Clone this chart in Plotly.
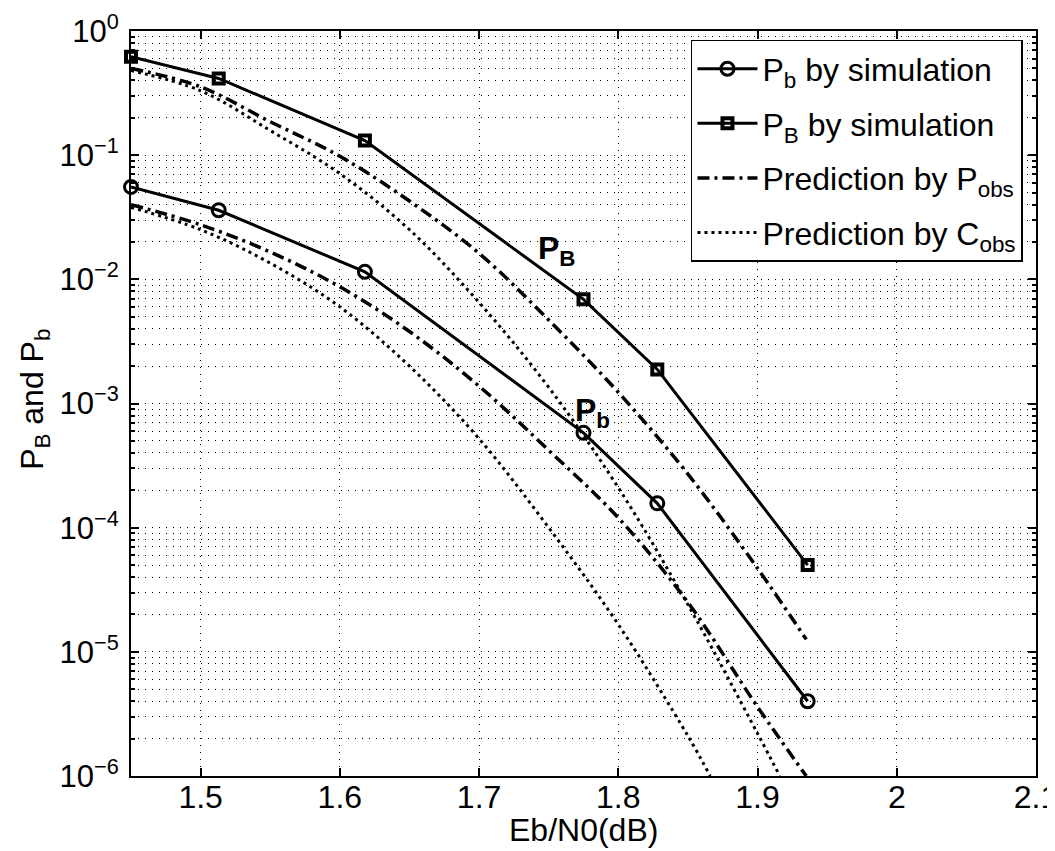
import plotly.graph_objects as go

# ---- data ----
x_sim = [1.45, 1.513, 1.618, 1.775, 1.828, 1.936]
PB_sim = [0.62, 0.415, 0.131, 6.9e-3, 1.88e-3, 5.0e-5]
Pb_sim = [0.0555, 0.036, 0.0115, 5.8e-4, 1.57e-4, 4.0e-6]

x_PB_Pobs = [1.45, 1.5, 1.55, 1.6, 1.65, 1.7, 1.75, 1.8, 1.85, 1.9, 1.935]
PB_Pobs = [0.50, 0.355, 0.186, 0.098, 0.0427, 0.0162, 4.7e-3, 1.23e-3, 2.7e-4, 4.7e-5, 1.26e-5]

x_PB_Cobs = [1.45, 1.5, 1.55, 1.6, 1.65, 1.7, 1.75, 1.8, 1.85, 1.9, 1.916]
PB_Cobs = [0.48, 0.33, 0.158, 0.071, 0.0251, 6.5e-3, 1.35e-3, 2.1e-4, 2.4e-5, 2.2e-6, 1.0e-6]

x_Pb_Pobs = [1.45, 1.5, 1.55, 1.6, 1.65, 1.7, 1.75, 1.8, 1.85, 1.9, 1.935]
Pb_Pobs = [0.040, 0.0275, 0.0166, 8.7e-3, 3.8e-3, 1.38e-3, 4.2e-4, 1.2e-4, 2.5e-5, 3.6e-6, 1.0e-6]

x_Pb_Cobs = [1.45, 1.5, 1.55, 1.6, 1.65, 1.7, 1.75, 1.8, 1.85, 1.866]
Pb_Cobs = [0.038, 0.0251, 0.0135, 6.0e-3, 2.0e-3, 5.2e-4, 1.0e-4, 1.66e-5, 2.1e-6, 1.0e-6]

x_ticks = [1.5, 1.6, 1.7, 1.8, 1.9, 2.0, 2.1]
x_ticktext = ["1.5", "1.6", "1.7", "1.8", "1.9", "2", "2.1"]
y_ticks = [1, 1e-1, 1e-2, 1e-3, 1e-4, 1e-5, 1e-6]
y_ticktext = ["10<sup>0</sup>", "10<sup>−1</sup>", "10<sup>−2</sup>", "10<sup>−3</sup>",
              "10<sup>−4</sup>", "10<sup>−5</sup>", "10<sup>−6</sup>"]
y_minor = [m * 10.0 ** e for e in range(-6, 0) for m in range(2, 10)]

FONT = "Liberation Sans, Arial, sans-serif"
fig = go.Figure()

fig.add_trace(go.Scatter(x=x_sim, y=Pb_sim, mode="lines+markers", name="P<sub>b</sub> by simulation",
                         line=dict(color="black", width=3),
                         marker=dict(symbol="circle-open", size=13, color="black", line=dict(width=3)),
                         cliponaxis=False, legendgroup="g1"))
fig.add_trace(go.Scatter(x=x_sim, y=PB_sim, mode="lines+markers", name="P<sub>B</sub> by simulation",
                         line=dict(color="black", width=3),
                         marker=dict(symbol="square-open", size=10, color="black", line=dict(width=4)),
                         cliponaxis=False, legendgroup="g2"))
fig.add_trace(go.Scatter(x=x_PB_Pobs, y=PB_Pobs, mode="lines", name="Prediction by P<sub>obs</sub>",
                         line=dict(color="black", width=3.5, dash="12px,5px,3px,5px", shape="spline"),
                         legendgroup="g3"))
fig.add_trace(go.Scatter(x=x_Pb_Pobs, y=Pb_Pobs, mode="lines", name="Prediction by P<sub>obs</sub>",
                         line=dict(color="black", width=3.5, dash="12px,5px,3px,5px", shape="spline"),
                         legendgroup="g3", showlegend=False))
fig.add_trace(go.Scatter(x=x_PB_Cobs, y=PB_Cobs, mode="lines", name="Prediction by C<sub>obs</sub>",
                         line=dict(color="black", width=3, dash="3px,4px", shape="spline"),
                         legendgroup="g4"))
fig.add_trace(go.Scatter(x=x_Pb_Cobs, y=Pb_Cobs, mode="lines", name="Prediction by C<sub>obs</sub>",
                         line=dict(color="black", width=3, dash="3px,4px", shape="spline"),
                         legendgroup="g4", showlegend=False))

fig.add_annotation(x=1.7557, y=-1.766, text="<b>P<sub>B</sub></b>", showarrow=False,
                   font=dict(size=32, color="black", family=FONT))
fig.add_annotation(x=1.7816, y=-3.07, text="<b>P<sub>b</sub></b>", showarrow=False,
                   font=dict(size=32, color="black", family=FONT))
# axis titles
fig.add_annotation(xref="paper", yref="paper", x=0.5, y=-0.073, text="Eb/N0(dB)", showarrow=False,
                   xanchor="center", yanchor="middle", font=dict(size=32, color="black", family=FONT))
fig.add_annotation(xref="paper", yref="paper", x=-0.106, y=0.505, text="P<sub>B</sub> and P<sub>b</sub>",
                   showarrow=False, textangle=-90, xanchor="center", yanchor="middle",
                   font=dict(size=32, color="black", family=FONT))

grid = dict(showgrid=True, gridcolor="black", gridwidth=1, griddash="1px,6px")
fig.update_xaxes(range=[1.45, 2.1], tickvals=x_ticks, ticktext=x_ticktext,
                 ticks="inside", ticklen=8, tickwidth=1.5, tickcolor="black",
                 showline=True, linecolor="black", linewidth=2, mirror="ticks",
                 zeroline=False, tickfont=dict(size=32, family=FONT, color="black"),
                 ticklabelstandoff=-8, automargin=False, ticklabeloverflow="allow",
                 **grid)
fig.update_yaxes(type="log", range=[-6, 0], tickvals=y_ticks, ticktext=y_ticktext,
                 ticks="inside", ticklen=8, tickwidth=1.5, tickcolor="black",
                 showline=True, linecolor="black", linewidth=2, mirror="ticks",
                 zeroline=False, tickfont=dict(size=31, family=FONT, color="black"),
                 ticklabelstandoff=4, automargin=False, ticklabeloverflow="allow",
                 minor=dict(tickvals=y_minor, ticks="inside", ticklen=4, tickcolor="black",
                            showgrid=True, gridcolor="black", gridwidth=1, griddash="1px,6px"),
                 **grid)

# page body has an 8px default margin, so the figure is offset by 8px
fig.update_layout(
    width=1047, height=843,
    margin=dict(l=123, r=19, t=23, b=75),
    paper_bgcolor="white", plot_bgcolor="white",
    font=dict(family=FONT, color="black"),
    showlegend=True,
    legend=dict(x=0.9856, y=0.988, xanchor="right", yanchor="top",
                bgcolor="white", bordercolor="black", borderwidth=1.5,
                font=dict(size=32, family=FONT, color="black"),
                itemwidth=60, tracegroupgap=10, traceorder="grouped"),
)

fig.write_html("out.html")
